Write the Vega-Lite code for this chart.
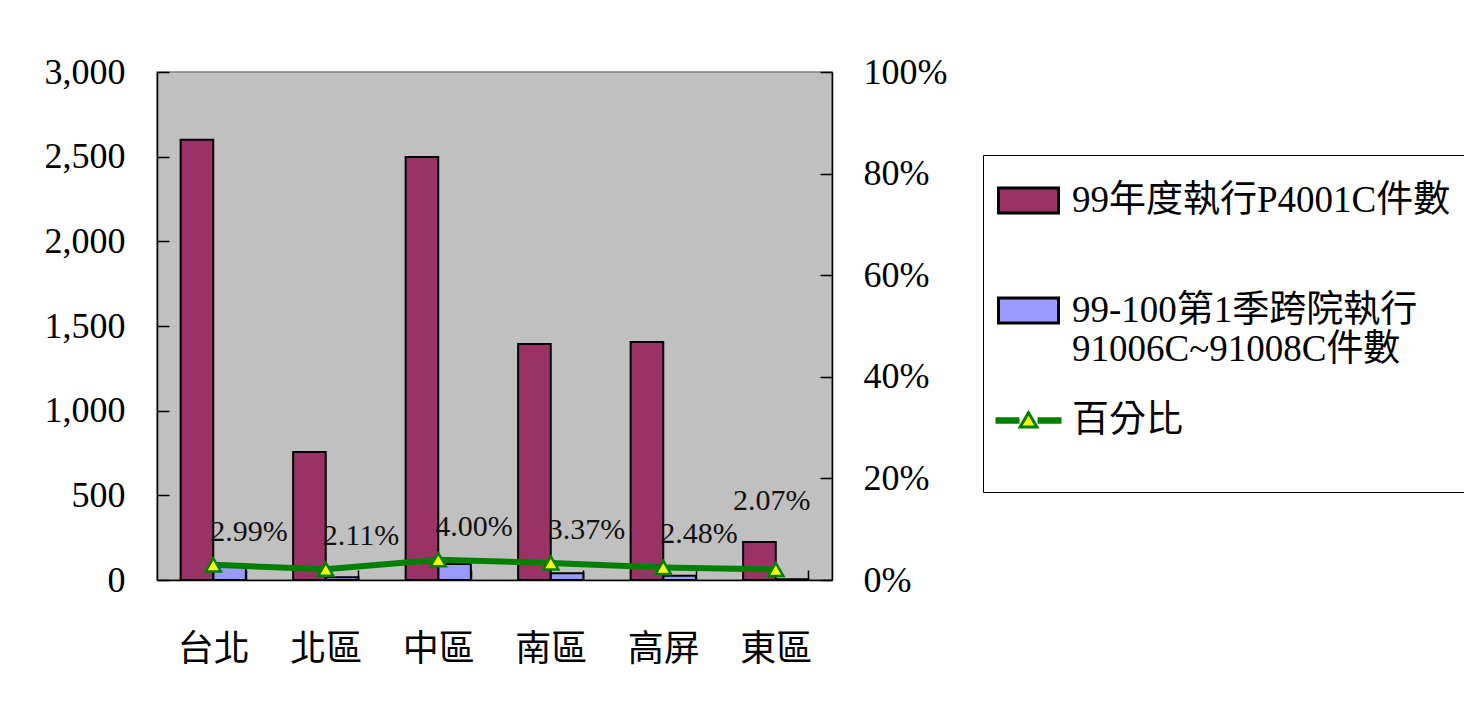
{
  "$schema": "https://vega.github.io/schema/vega-lite/v6.json",
  "width": 675,
  "height": 508,
  "autosize": {"type": "none"},
  "padding": {"left": 157, "top": 72, "right": 632, "bottom": 121},
  "background": "white",
  "config": {
    "view": {"fill": "#C0C0C0", "stroke": "#808080", "strokeWidth": 1.5},
    "font": "Liberation Serif, Noto Sans CJK TC",
    "axis": {
      "labelFont": "Liberation Serif, Noto Sans CJK TC",
      "labelColor": "black",
      "domainColor": "black",
      "domainWidth": 1.5,
      "tickColor": "black",
      "tickWidth": 1.5,
      "grid": false,
      "title": null
    }
  },
  "datasets": {
    "bars": [
      {"region": "台北", "series": "99年度執行P4001C件數", "value": 2600},
      {"region": "台北", "series": "99-100第1季跨院執行91006C~91008C件數", "value": 78},
      {"region": "北區", "series": "99年度執行P4001C件數", "value": 756},
      {"region": "北區", "series": "99-100第1季跨院執行91006C~91008C件數", "value": 16},
      {"region": "中區", "series": "99年度執行P4001C件數", "value": 2498},
      {"region": "中區", "series": "99-100第1季跨院執行91006C~91008C件數", "value": 95},
      {"region": "南區", "series": "99年度執行P4001C件數", "value": 1394},
      {"region": "南區", "series": "99-100第1季跨院執行91006C~91008C件數", "value": 40},
      {"region": "高屏", "series": "99年度執行P4001C件數", "value": 1406},
      {"region": "高屏", "series": "99-100第1季跨院執行91006C~91008C件數", "value": 25},
      {"region": "東區", "series": "99年度執行P4001C件數", "value": 224},
      {"region": "東區", "series": "99-100第1季跨院執行91006C~91008C件數", "value": 5}
    ],
    "pct": [
      {"region": "台北", "pct": 0.0299, "label": "2.99%"},
      {"region": "北區", "pct": 0.0211, "label": "2.11%"},
      {"region": "中區", "pct": 0.04, "label": "4.00%"},
      {"region": "南區", "pct": 0.0337, "label": "3.37%"},
      {"region": "高屏", "pct": 0.0248, "label": "2.48%"},
      {"region": "東區", "pct": 0.0207, "label": "2.07%"}
    ]
  },
  "encoding": {
    "x": {
      "field": "region",
      "type": "nominal",
      "sort": ["台北", "北區", "中區", "南區", "高屏", "東區"],
      "scale": {"paddingInner": 0.42, "paddingOuter": 0.21},
      "axis": {
        "labelAngle": 0,
        "labelFontSize": 36,
        "labelFont": "Noto Sans CJK TC",
        "labelPadding": 62,
        "tickSize": -10,
        "tickBand": "extent",
        "domainWidth": 1.5
      }
    }
  },
  "layer": [
    {
      "data": {"name": "bars"},
      "encoding": {
        "xOffset": {
          "field": "series",
          "type": "nominal",
          "sort": ["99年度執行P4001C件數", "99-100第1季跨院執行91006C~91008C件數"]
        },
        "y": {
          "field": "value",
          "type": "quantitative",
          "scale": {"domain": [0, 3000], "nice": false},
          "axis": {
            "values": [0, 500, 1000, 1500, 2000, 2500, 3000],
            "format": ",d",
            "labelFontSize": 36,
            "labelPadding": 44,
            "tickSize": -12
          }
        }
      },
      "layer": [
        {
          "mark": {"type": "bar"},
          "encoding": {
            "color": {
              "field": "series",
              "type": "nominal",
              "scale": {
                "domain": ["99年度執行P4001C件數", "99-100第1季跨院執行91006C~91008C件數", "百分比"],
                "range": ["#993366", "#9999FF", "#FFFF00"]
              },
              "legend": {
                "title": null,
                "orient": "none",
                "legendX": 826,
                "legendY": 83,
                "strokeColor": "black",
                "fillColor": "white",
                "padding": 14,
                "symbolSize": 3600,
                "symbolOpacity": 1,
                "symbolType": {"expr": "datum.value === '百分比' ? 'M-1.1,-0.06H-0.3M-1.1,0H-0.3M-1.1,0.06H-0.3M0.3,-0.06H1.1M0.3,0H1.1M0.3,0.06H1.1M-0.28,0.22L0,-0.26L0.28,0.22Z' : 'M-1,-0.42H1V0.42H-1Z'"},
                "symbolStrokeColor": {"expr": "datum.value === '百分比' ? '#008000' : 'black'"},
                "symbolStrokeWidth": 3,
                "labelFontSize": 37,
                "labelFont": "Liberation Serif, Noto Sans CJK TC",
                "labelColor": "black",
                "labelLimit": 700,
                "labelLineHeight": 47,
                "rowPadding": 21,
                "labelOffset": 12,
                "labelExpr": "datum.value == '99-100第1季跨院執行91006C~91008C件數' ? ['99-100第1季跨院執行', '91006C~91008C件數'] : [datum.label, '']"
              }
            }
          }
        },
        {
          "mark": {"type": "bar", "fill": null, "fillOpacity": 0, "stroke": "black", "strokeWidth": 2}
        }
      ]
    },
    {
      "data": {"name": "pct"},
      "encoding": {
        "y": {
          "field": "pct",
          "type": "quantitative",
          "scale": {"domain": [0, 1], "nice": false}
        }
      },
      "layer": [
        {
          "mark": {"type": "line", "strokeWidth": 6, "color": "#008000"},
          "encoding": {
            "y": {
              "field": "pct",
              "type": "quantitative",
              "axis": {
                "orient": "right",
                "values": [0, 0.2, 0.4, 0.6, 0.8, 1],
                "format": ".0%",
                "labelFontSize": 36,
                "labelPadding": 43,
                "tickSize": -12
              }
            }
          }
        },
        {
          "mark": {"type": "point", "shape": "triangle-up", "filled": true, "fill": "#FFFF00", "stroke": "#008000", "strokeWidth": 2.5, "size": 230, "opacity": 1},
          "encoding": {}
        },
        {
          "transform": [{"filter": "datum.region != '東區'"}],
          "mark": {"type": "text", "align": "left", "baseline": "middle", "dx": -3, "dy": -33, "fontSize": 30, "font": "Liberation Serif", "color": "#111111"},
          "encoding": {"text": {"field": "label"}}
        },
        {
          "transform": [{"filter": "datum.region == '東區'"}],
          "mark": {"type": "text", "align": "center", "baseline": "middle", "dx": -4, "dy": -68, "fontSize": 30, "font": "Liberation Serif", "color": "#111111"},
          "encoding": {"text": {"field": "label"}}
        }
      ]
    }
  ],
  "resolve": {"scale": {"y": "independent"}}
}
